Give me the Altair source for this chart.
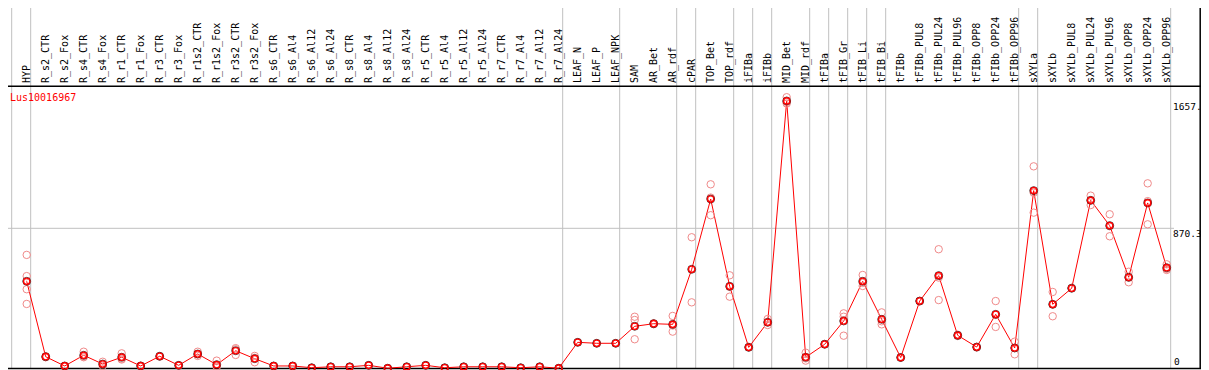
import altair as alt
import pandas as pd

samples = ["HYP", "R_s2_CTR", "R_s2_Fox", "R_s4_CTR", "R_s4_Fox", "R_r1_CTR", "R_r1_Fox",
           "R_r3_CTR", "R_r3_Fox", "R_r1s2_CTR", "R_r1s2_Fox", "R_r3s2_CTR", "R_r3s2_Fox",
           "R_s6_CTR", "R_s6_Al4", "R_s6_Al12", "R_s6_Al24", "R_s8_CTR", "R_s8_Al4", "R_s8_Al12",
           "R_s8_Al24", "R_r5_CTR", "R_r5_Al4", "R_r5_Al12", "R_r5_Al24", "R_r7_CTR", "R_r7_Al4",
           "R_r7_Al12", "R_r7_Al24", "LEAF_N", "LEAF_P", "LEAF_NPK", "SAM", "AR_Bet", "AR_rdf",
           "cPAR", "TOP_Bet", "TOP_rdf", "iFIBa", "iFIBb", "MID_Bet", "MID_rdf", "tFIBa",
           "tFIB_Gr", "tFIB_Li", "tFIB_Bi", "tFIBb", "tFIBb_PUL8", "tFIBb_PUL24", "tFIBb_PUL96",
           "tFIBb_OPP8", "tFIBb_OPP24", "tFIBb_OPP96", "sXYLa", "sXYLb", "sXYLb_PUL8",
           "sXYLb_PUL24", "sXYLb_PUL96", "sXYLb_OPP8", "sXYLb_OPP24", "sXYLb_OPP96"]

means = [543, 77, 20, 86, 32, 74, 20, 80, 24, 94, 28, 114, 65,
         20, 20, 9, 15, 15, 24, 6, 15, 24, 9, 15, 15, 15, 9, 15, 6,
         166, 160, 160, 265, 281, 277, 617, 1051, 512, 135, 290, 1657, 74, 154,
         298, 543, 308, 72, 421, 578, 209, 137, 339, 131, 1103, 401, 500,
         1043, 887, 568, 1027, 627]

replicates = [
    [706, 575, 494, 403], [80, 74], [20, 18], [108, 74, 78], [46, 20, 30], [98, 65, 60],
    [20, 22], [80, 78], [24, 22], [108, 82, 92], [53, 20, 12], [123, 88, 130], [82, 43, 70],
    [20, 20], [20, 20], [9, 9], [15, 15], [15, 15], [24, 24], [6, 6], [15, 15], [24, 24],
    [9, 9], [15, 15], [15, 15], [15, 15], [9, 9], [15, 15], [6, 6],
    [166], [160], [160], [324, 304, 185], [284, 278, 281], [329, 232, 270], [815, 413],
    [1142, 951, 1060], [580, 448, 508], [135, 138], [310, 273, 288], [1680, 1650, 1641],
    [102, 53, 67], [154, 156], [345, 324, 207], [582, 514, 533], [351, 277, 296], [72, 74],
    [421, 420], [741, 427, 566], [209, 205, 213], [137, 134], [421, 261, 335], [170, 92, 131],
    [1253, 967, 1090], [477, 327, 399], [500, 502], [1072, 1014, 1043], [957, 821, 883],
    [602, 537, 565], [1148, 895, 1038], [648, 613, 620]]

# last sample index of each group (group separators drawn after them)
group_ends = [-1, 0, 28, 31, 34, 35, 37, 38, 39, 41, 42, 43, 44, 45, 52, 53, 60]

gene_id = "Lus10016967"
axis_labels = [("1657.", 1657), ("870.3", 870.3)]

W, H = 1193, 362
FONT = "DejaVu Sans Mono"

mean_df = pd.DataFrame({"idx": list(range(len(samples))), "sample": samples, "value": means})
rep_rows = []
for i, reps in enumerate(replicates):
    for r in reps:
        rep_rows.append({"idx": i, "value": r})
rep_df = pd.DataFrame(rep_rows)
sep_df = pd.DataFrame({"end": group_ends})
lab_df = pd.DataFrame({"idx": list(range(len(samples))), "sample": samples})
axl_df = pd.DataFrame({"label": [a for a, _ in axis_labels], "value": [b for _, b in axis_labels]})

# 19 px per sample column; first sample 18.7 px from the left of the plot
xs = alt.Scale(domain=[-0.984, -0.984 + W / 19.0], nice=False, zero=False)
ys = alt.Scale(domain=[-4.94, 2231], nice=False, zero=False)

seps = alt.Chart(sep_df).transform_calculate(pos="datum.end + 0.21").mark_rule(
    color="#c0c0c0", strokeWidth=1).encode(
    x=alt.X("pos:Q", scale=xs, axis=None), y=alt.value(0), y2=alt.value(360))

hgrid = alt.Chart(axl_df).transform_filter("datum.value < 1000").mark_rule(
    color="#c0c0c0", strokeWidth=1).encode(
    y=alt.Y("value:Q", scale=ys, axis=None), x=alt.value(0), x2=alt.value(1166))

header_line = alt.Chart(pd.DataFrame({"a": [0]})).mark_rule(color="black", strokeWidth=1.5).encode(
    x=alt.value(0), x2=alt.value(W), y=alt.value(78.2))
bottom_line = alt.Chart(pd.DataFrame({"a": [0]})).mark_rule(color="black", strokeWidth=1.5).encode(
    x=alt.value(0), x2=alt.value(W), y=alt.value(360.5))
right_line = alt.Chart(pd.DataFrame({"a": [0]})).mark_rule(color="black", strokeWidth=1.5).encode(
    x=alt.value(W - 0.8), y=alt.value(0), y2=alt.value(361))

labels = alt.Chart(lab_df).transform_calculate(lx="datum.idx + 0.0").mark_text(
    angle=270, align="left", baseline="middle", font=FONT, fontSize=10, color="black").encode(
    x=alt.X("lx:Q", scale=xs, axis=None), y=alt.value(75), text="sample:N")

title = alt.Chart(pd.DataFrame({"t": [gene_id]})).mark_text(
    align="left", baseline="alphabetic", font=FONT, fontSize=10, color="#ff0000").encode(
    x=alt.value(2), y=alt.value(93), text="t:N")

axis_text = alt.Chart(axl_df).mark_text(
    align="left", baseline="top", font=FONT, fontSize=9.5, color="black", dy=1).encode(
    x=alt.value(1165), y=alt.Y("value:Q", scale=ys, axis=None), text="label:N")
zero_text = alt.Chart(pd.DataFrame({"label": ["0"], "value": [0]})).mark_text(
    align="left", baseline="alphabetic", font=FONT, fontSize=9.5, color="black", dy=-4).encode(
    x=alt.value(1166), y=alt.Y("value:Q", scale=ys, axis=None), text="label:N")

line = alt.Chart(mean_df).mark_line(color="#ff0000", strokeWidth=1).encode(
    x=alt.X("idx:Q", scale=xs, axis=None), y=alt.Y("value:Q", scale=ys, axis=None))

reps_pts = alt.Chart(rep_df).mark_point(
    shape="circle", filled=False, color="#f08a8a", size=55, strokeWidth=1, opacity=1).encode(
    x=alt.X("idx:Q", scale=xs, axis=None), y=alt.Y("value:Q", scale=ys, axis=None))

mean_outer = alt.Chart(mean_df).mark_point(
    shape="circle", filled=False, color="#000000", size=62, strokeWidth=1, opacity=0.75).encode(
    x=alt.X("idx:Q", scale=xs, axis=None), y=alt.Y("value:Q", scale=ys, axis=None))
mean_inner = alt.Chart(mean_df).mark_point(
    shape="circle", filled=False, color="#ff0000", size=40, strokeWidth=1.4, opacity=1).encode(
    x=alt.X("idx:Q", scale=xs, axis=None), y=alt.Y("value:Q", scale=ys, axis=None))

chart = alt.layer(
    seps, hgrid, header_line, bottom_line, right_line, labels, title, axis_text, zero_text,
    line, reps_pts, mean_outer, mean_inner
).properties(
    width=W, height=H, padding=0, autosize=alt.AutoSizeParams(type="none"),
    background="white"
).configure_view(stroke=None)

chart.save("out.html", embed_options={"renderer": "svg", "actions": False})
